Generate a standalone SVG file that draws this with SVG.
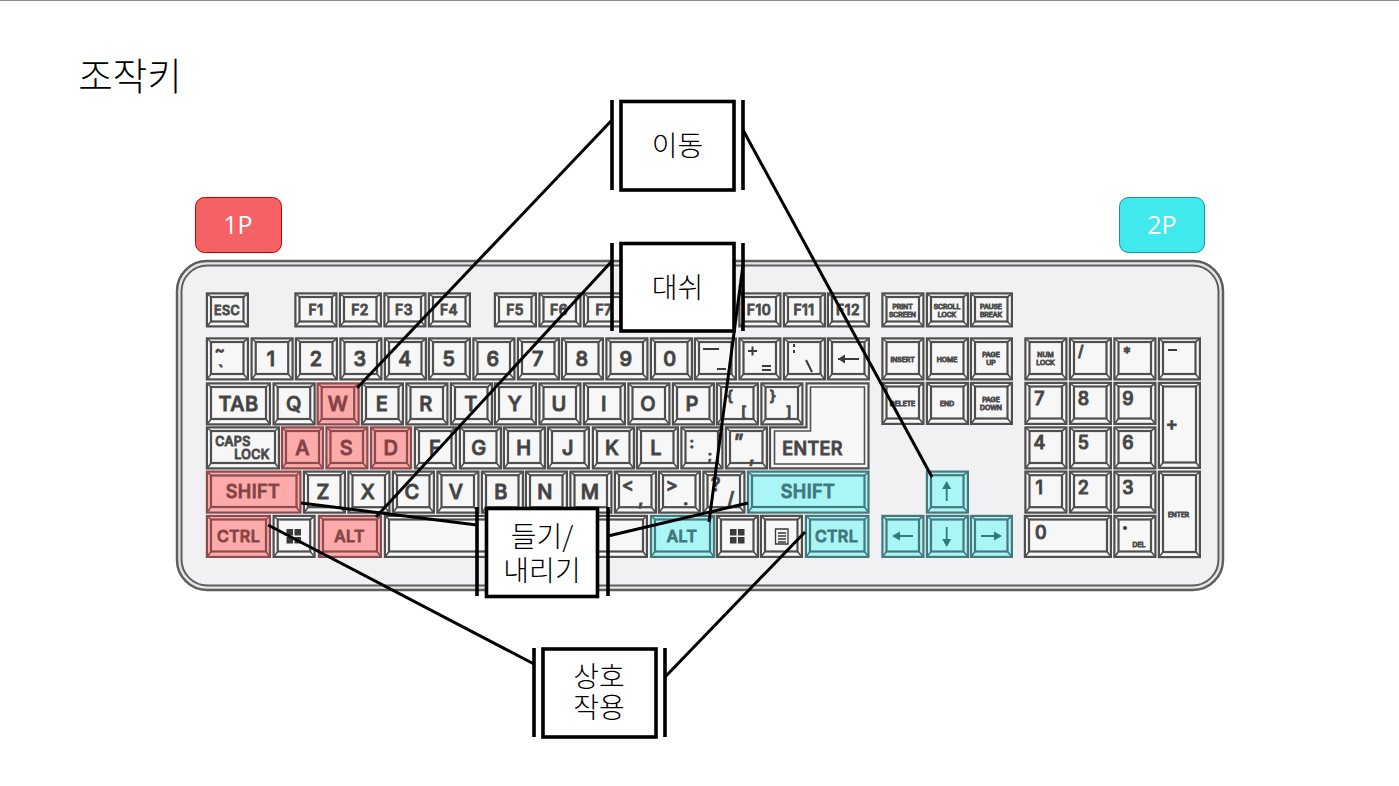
<svg xmlns="http://www.w3.org/2000/svg" width="1399" height="786" viewBox="0 0 1399 786">
<style>
text{font-family:"Inter","Liberation Sans",sans-serif;font-weight:500;fill:#3a3a3a;text-anchor:middle;letter-spacing:.4px}
.o{stroke-width:2.200;stroke-linejoin:miter}
.b{stroke-width:1.600;fill:none}
g.w,use.w{fill:#f7f7f7;stroke:#4f4f4f}
g.r,use.r{fill:#fdaaaa;stroke:#8c4b4e}
g.c,use.c{fill:#aaf5f6;stroke:#46797c}
g.r text{fill:#7b3a3d}
g.c text{fill:#2f7a7e}
.l{font-size:20px}.m{font-size:18px}.s{font-size:15px}.t{font-size:6.800px;font-weight:400;letter-spacing:0}.n{font-size:14px}
.conn{stroke:#000;stroke-width:3;fill:none;stroke-linecap:butt}
.box{fill:#fff;stroke:#000;stroke-width:3.600}
.bar{stroke:#000;stroke-width:3.600}
.kr{font-family:"Noto Sans CJK KR",sans-serif;font-weight:300;fill:#000;font-size:28px;letter-spacing:0}
.badge{font-family:"Open Sans","Noto Sans",sans-serif;font-weight:400;fill:#fff;font-size:25px;letter-spacing:0}
</style>
<defs>
<symbol id="k" width="44" height="44" overflow="visible"><rect class="o" x=".9" y=".9" width="41" height="41"/><rect class="o" x="5" y="4.500" width="32.500" height="32"/><path class="b" d="M1 1 5 4.500M42 1 37.500 4.500M1 42 5 36.500M42 42 37.500 36.500"/></symbol>
<symbol id="f" width="44" height="36" overflow="visible"><rect class="o" x=".9" y=".9" width="41" height="33"/><rect class="o" x="5" y="4.500" width="32.500" height="24.500"/><path class="b" d="M1 1 5 4.500M42 1 37.500 4.500M1 34 5 29M42 34 37.500 29"/></symbol>
</defs>
<rect width="1399" height="786" fill="#fff"/>
<rect width="1399" height="1" fill="#8c8c8c"/>
<text x="130" y="90" class="kr" style="font-size:37.500px">조작키</text>
<g id="badge-1p"><rect x="195.500" y="197.500" width="86" height="55" rx="9" fill="#f56164" stroke="#c00000"/><text x="238" y="234" class="badge">1P</text></g>
<g id="badge-2p"><rect x="1119.500" y="197.500" width="85" height="55" rx="9" fill="#3fe9ec" stroke="#1a8fa8"/><text x="1162" y="234" class="badge">2P</text></g>
<g id="keyboard">
<rect x="177" y="261" width="1046" height="329" rx="30" fill="#e6e6e6" stroke="#5f5f5f" stroke-width="2.500"/>
<rect x="181.500" y="265.500" width="1037" height="320" rx="26" fill="#f1f1f3" stroke="#5f5f5f" stroke-width="2"/>

<g class="w">
<use href="#f" class="w" x="206" y="292.500"/><use href="#f" class="w" x="294.500" y="292.500"/><use href="#f" class="w" x="339" y="292.500"/><use href="#f" class="w" x="383.500" y="292.500"/><use href="#f" class="w" x="428" y="292.500"/>
<use href="#f" class="w" x="494" y="292.500"/><use href="#f" class="w" x="538.500" y="292.500"/><use href="#f" class="w" x="583" y="292.500"/><use href="#f" class="w" x="738.500" y="292.500"/><use href="#f" class="w" x="783" y="292.500"/><use href="#f" class="w" x="827" y="292.500"/>
<use href="#f" class="w" x="881.500" y="292.500"/><use href="#f" class="w" x="926" y="292.500"/><use href="#f" class="w" x="970" y="292.500"/>
<text style="font-size:12.500px" x="227" y="314.500">ESC</text><text class="n" x="316" y="315">F1</text><text class="n" x="360" y="315">F2</text><text class="n" x="404" y="315">F3</text><text class="n" x="449" y="315">F4</text><text class="n" x="515" y="315">F5</text><text class="n" x="559" y="315">F6</text><text class="n" x="604" y="315">F7</text><text class="n" x="759" y="315">F10</text><text class="n" x="804" y="315">F11</text><text class="n" x="848" y="315">F12</text>
<text class="t" x="902.500" y="309">PRINT</text><text class="t" x="902.500" y="316.500">SCREEN</text><text class="t" x="947" y="309">SCROLL</text><text class="t" x="947" y="316.500">LOCK</text><text class="t" x="991" y="309">PAUSE</text><text class="t" x="991" y="316.500">BREAK</text>
</g>

<g class="w">
<use href="#k" class="w" x="206" y="337.500"/><use href="#k" class="w" x="250.700" y="337.500"/><use href="#k" class="w" x="295" y="337.500"/><use href="#k" class="w" x="339.500" y="337.500"/><use href="#k" class="w" x="384" y="337.500"/><use href="#k" class="w" x="428" y="337.500"/><use href="#k" class="w" x="472.500" y="337.500"/><use href="#k" class="w" x="517" y="337.500"/><use href="#k" class="w" x="561" y="337.500"/><use href="#k" class="w" x="605.500" y="337.500"/><use href="#k" class="w" x="650" y="337.500"/><use href="#k" class="w" x="694" y="337.500"/><use href="#k" class="w" x="738.500" y="337.500"/><use href="#k" class="w" x="783" y="337.500"/><use href="#k" class="w" x="827" y="337.500"/>
<text style="font-size:15px" x="220" y="355">~</text><text style="font-size:15px" x="221" y="376">`</text>
<text class="l" x="271" y="366">1</text><text class="l" x="316" y="366">2</text><text class="l" x="360" y="366">3</text><text class="l" x="405" y="366">4</text><text class="l" x="449" y="366">5</text><text class="l" x="493" y="366">6</text><text class="l" x="538" y="366">7</text><text class="l" x="582" y="366">8</text><text class="l" x="626" y="366">9</text><text class="l" x="670" y="366">0</text>
<path d="M703 349h16M717 369h9M748 351h9M752.500 346.500v9M762 366h9M762 370h9M794 344v3M794 350v3M806 360l6 12" fill="none" stroke="#3a3a3a" stroke-width="2"/>
<path d="M838 359h21" fill="none" stroke="#3a3a3a" stroke-width="2"/><path d="M838 359l7-4.500v9z" fill="#3a3a3a" stroke="none"/>
</g>

<g class="w">
<use href="#k" class="w" x="272.700" y="382.500"/><use href="#k" class="w" x="361" y="382.500"/><use href="#k" class="w" x="405.500" y="382.500"/><use href="#k" class="w" x="450" y="382.500"/><use href="#k" class="w" x="494" y="382.500"/><use href="#k" class="w" x="538.500" y="382.500"/><use href="#k" class="w" x="583" y="382.500"/><use href="#k" class="w" x="627.500" y="382.500"/><use href="#k" class="w" x="672" y="382.500"/><use href="#k" class="w" x="716" y="382.500"/><use href="#k" class="w" x="760.500" y="382.500"/>
<rect class="o" x="206.900" y="383.400" width="63" height="41"/><rect class="o" x="211" y="387" width="55" height="32"/><path class="b" d="M207 383.500 211 387M270 383.500 266 387M207 424.500 211 419M270 424.500 266 419"/>
<text class="l" x="238.500" y="411">TAB</text>
<text class="l" x="294" y="411">Q</text><text class="l" x="382" y="411">E</text><text class="l" x="426" y="411">R</text><text class="l" x="471" y="411">T</text><text class="l" x="515" y="411">Y</text><text class="l" x="559" y="411">U</text><text class="l" x="604" y="411">I</text><text class="l" x="648" y="411">O</text><text class="l" x="692" y="411">P</text>
<text class="s" x="730" y="401">{</text><text class="s" x="744" y="417">[</text><text class="s" x="773" y="401">}</text><text class="s" x="789" y="417">]</text>
<path class="o" d="M806.500 383.400h62v85h-98.500v-41h36.500z"/>
<path class="b" d="M810.500 387h54v77h-90v-33h36z"/>
<text class="m" x="812.500" y="454.500">ENTER</text>

<rect class="o" x="206.900" y="427.400" width="72" height="41"/><rect class="o" x="211" y="431" width="64" height="32"/><path class="b" d="M207 427.500 211 431M279 427.500 275 431M207 468.500 211 463M279 468.500 275 463"/>
<text style="font-size:12.500px" x="233" y="446">CAPS</text><text style="font-size:12.500px" x="252" y="459">LOCK</text>
<use href="#k" class="w" x="414" y="426.500"/><use href="#k" class="w" x="459" y="426.500"/><use href="#k" class="w" x="503" y="426.500"/><use href="#k" class="w" x="547" y="426.500"/><use href="#k" class="w" x="592" y="426.500"/><use href="#k" class="w" x="636" y="426.500"/><use href="#k" class="w" x="680.500" y="426.500"/><use href="#k" class="w" x="725" y="426.500"/>
<text class="l" x="435" y="455">F</text><text class="l" x="479" y="455">G</text><text class="l" x="524" y="455">H</text><text class="l" x="568" y="455">J</text><text class="l" x="612" y="455">K</text><text class="l" x="656" y="455">L</text>
<text class="s" x="692" y="448">:</text><text class="s" x="710" y="461">;</text><text class="l" x="739" y="449">”</text><text class="l" x="752" y="462">,</text>

<use href="#k" class="w" x="303" y="470.700"/><use href="#k" class="w" x="347.500" y="470.700"/><use href="#k" class="w" x="392" y="470.700"/><use href="#k" class="w" x="436.500" y="470.700"/><use href="#k" class="w" x="481" y="470.700"/><use href="#k" class="w" x="525" y="470.700"/><use href="#k" class="w" x="569.500" y="470.700"/><use href="#k" class="w" x="614" y="470.700"/><use href="#k" class="w" x="658" y="470.700"/><use href="#k" class="w" x="702.500" y="470.700"/>
<text class="l" x="323" y="499">Z</text><text class="l" x="368" y="499">X</text><text class="l" x="412" y="499">C</text><text class="l" x="456" y="499">V</text><text class="l" x="501" y="499">B</text><text class="l" x="545" y="499">N</text><text class="l" x="590" y="499">M</text>
<text class="m" x="628" y="491">&lt;</text><text class="m" x="641" y="505">,</text><text class="m" x="672" y="491">&gt;</text><text class="m" x="686" y="505">.</text><text class="m" x="716" y="491">?</text><text class="m" x="731" y="505">/</text>

<use href="#k" class="w" x="272.700" y="515"/>
<path d="M286.500 529h6.500v6.500h-6.500zM294.500 529h6.500v6.500h-6.500zM286.500 537h6.500v6.500h-6.500zM294.500 537h6.500v6.500h-6.500z" fill="#3a3a3a" stroke="none"/>
<rect class="o" x="384.900" y="515.900" width="262" height="41"/><rect class="o" x="389" y="519.500" width="254" height="32"/>
<path class="b" d="M385 516 389 519.500M647 516 643 519.500M385 557 389 551.500M647 557 643 551.500"/>
<use href="#k" class="w" x="716" y="515"/>
<path d="M730 529h6.500v6.500h-6.500zM738 529h6.500v6.500h-6.500zM730 537h6.500v6.500h-6.500zM738 537h6.500v6.500h-6.500z" fill="#3a3a3a" stroke="none"/>
<use href="#k" class="w" x="760" y="515"/>
<path d="M775.500 529h12.500v15h-12.500zM778 533h8M778 536h8M778 539h8M778 542h8" fill="none" stroke="#3a3a3a" stroke-width="1.300"/>
</g>

<g class="w">
<use href="#k" class="w" x="881.500" y="337.500"/><use href="#k" class="w" x="926" y="337.500"/><use href="#k" class="w" x="970" y="337.500"/><use href="#k" class="w" x="881.500" y="382"/><use href="#k" class="w" x="926" y="382"/><use href="#k" class="w" x="970" y="382"/>
<text class="t" x="902.500" y="361.500">INSERT</text><text class="t" x="947" y="361.500">HOME</text><text class="t" x="991" y="357">PAGE</text><text class="t" x="991" y="365">UP</text>
<text class="t" x="902.500" y="406">DELETE</text><text class="t" x="947" y="406">END</text><text class="t" x="991" y="402">PAGE</text><text class="t" x="991" y="410">DOWN</text>
<use href="#k" class="w" x="1024.500" y="337.500"/><use href="#k" class="w" x="1069" y="337.500"/><use href="#k" class="w" x="1113.500" y="337.500"/><use href="#k" class="w" x="1158" y="337.500"/>
<text class="t" x="1045.500" y="357">NUM</text><text class="t" x="1045.500" y="365">LOCK</text>
<text class="s" x="1081" y="356">/</text><text class="s" x="1127" y="358">*</text><path d="M1168 350h9" stroke="#3a3a3a" stroke-width="2"/>
<use href="#k" class="w" x="1024.500" y="382"/><use href="#k" class="w" x="1069" y="382"/><use href="#k" class="w" x="1113.500" y="382"/>
<use href="#k" class="w" x="1024.500" y="426.500"/><use href="#k" class="w" x="1069" y="426.500"/><use href="#k" class="w" x="1113.500" y="426.500"/>
<use href="#k" class="w" x="1024.500" y="470.700"/><use href="#k" class="w" x="1069" y="470.700"/><use href="#k" class="w" x="1113.500" y="470.700"/>
<use href="#k" class="w" x="1113.500" y="515"/>
<text class="m" x="1039.500" y="405">7</text><text class="m" x="1083.500" y="405">8</text><text class="m" x="1128" y="405">9</text>
<text class="m" x="1039.500" y="449">4</text><text class="m" x="1083.500" y="449">5</text><text class="m" x="1128" y="449">6</text>
<text class="m" x="1039.500" y="494">1</text><text class="m" x="1083.500" y="494">2</text><text class="m" x="1128" y="494">3</text>
<rect class="o" x="1158.900" y="382.900" width="41" height="85"/><rect class="o" x="1163" y="386.500" width="33" height="76"/><path class="b" d="M1159 383 1163 386.500M1200 383 1196 386.500M1159 468 1163 462.500M1200 468 1196 462.500"/>
<text class="m" x="1172" y="430">+</text>
<rect class="o" x="1158.900" y="471.600" width="41" height="85.500"/><rect class="o" x="1163" y="475" width="33" height="77"/><path class="b" d="M1159 471.700 1163 475M1200 471.700 1196 475M1159 557 1163 552M1200 557 1196 552"/>
<text class="t" x="1178.500" y="516.500" style="font-size:6.500px">ENTER</text>
<rect class="o" x="1024.900" y="515.900" width="86" height="41"/><rect class="o" x="1029" y="519.500" width="78" height="32"/><path class="b" d="M1025 516 1029 519.500M1111 516 1107 519.500M1025 557 1029 551.500M1111 557 1107 551.500"/>
<text class="m" x="1041" y="539">0</text>
<circle cx="1125" cy="528" r="2" fill="#3a3a3a" stroke="none"/><text class="t" x="1139" y="547">DEL</text>
</g>

<g class="r">
<use href="#k" class="r" x="316.700" y="382.500"/><text class="l" x="338" y="411">W</text>
<rect class="o" x="282" y="427.400" width="41" height="41"/><rect class="o" x="286" y="431" width="33" height="32"/><path class="b" d="M282 427.500 286 431M323 427.500 319 431M282 468.500 286 463M323 468.500 319 463"/><text class="l" x="302.500" y="455">A</text>
<use href="#k" class="r" x="325.500" y="426.500"/><text class="l" x="346.500" y="455">S</text>
<rect class="o" x="371" y="427.400" width="40" height="41"/><rect class="o" x="375" y="431" width="32" height="32"/><path class="b" d="M371 427.500 375 431M411 427.500 407 431M371 468.500 375 463M411 468.500 407 463"/><text class="l" x="391" y="455">D</text>
<rect class="o" x="206.900" y="471.600" width="93.500" height="41"/><rect class="o" x="211" y="475.500" width="85.500" height="31.500"/><path class="b" d="M207 471.700 211 475.500M300 471.700 296.500 475.500M207 512.500 211 507M300 512.500 296.500 507"/><text class="m" x="253" y="498">SHIFT</text>
<rect class="o" x="206.900" y="515.900" width="63" height="41"/><rect class="o" x="211" y="519.500" width="55" height="32"/><path class="b" d="M207 516 211 519.500M270 516 266 519.500M207 557 211 551.500M270 557 266 551.500"/><text style="font-size:16px" x="238.500" y="541.500">CTRL</text>
<rect class="o" x="318.900" y="515.900" width="62" height="41"/><rect class="o" x="323" y="519.500" width="54" height="32"/><path class="b" d="M319 516 323 519.500M381 516 377 519.500M319 557 323 551.500M381 557 377 551.500"/><text style="font-size:16px" x="349.500" y="541.500">ALT</text>
</g>

<g class="c">
<rect class="o" x="748" y="471.600" width="120.500" height="41"/><rect class="o" x="752" y="475.500" width="112.500" height="31.500"/><path class="b" d="M748 471.700 752 475.500M868.500 471.700 864.500 475.500M748 512.500 752 507M868.500 512.500 864.500 507"/><text class="m" x="808" y="498">SHIFT</text>
<rect class="o" x="651" y="515.900" width="63" height="41"/><rect class="o" x="655" y="519.500" width="55" height="32"/><path class="b" d="M651 516 655 519.500M714 516 710 519.500M651 557 655 551.500M714 557 710 551.500"/><text style="font-size:16px" x="682" y="541.500">ALT</text>
<rect class="o" x="805.900" y="515.900" width="62.500" height="41"/><rect class="o" x="810" y="519.500" width="54.500" height="32"/><path class="b" d="M806 516 810 519.500M868.500 516 864.500 519.500M806 557 810 551.500M868.500 557 864.500 551.500"/><text style="font-size:16px" x="836.500" y="541.500">CTRL</text>
<use href="#k" class="c" x="926" y="470.700"/><use href="#k" class="c" x="881.500" y="515"/><use href="#k" class="c" x="926" y="515"/><use href="#k" class="c" x="970" y="515"/>
<path d="M946.700 484v17M946.700 527v17M896 536h17M981 536h17" fill="none" stroke="#2f7a7e" stroke-width="1.800"/>
<path d="M946.700 481l-4.500 8h9zM946.700 547l-4.500-8h9zM892 536l8-4.500v9zM1002 536l-8-4.500v9z" fill="#2f7a7e" stroke="none"/>
</g>
</g>

<g id="connectors" class="conn">
<path d="M612 120 357 388"/><path d="M743 130 932 477"/>
<path d="M612 261 376 517"/><path d="M743 265 709 522"/>
<path d="M477 525 301 503"/><path d="M608 536 748 503"/>
<path d="M534 664 268 525"/><path d="M665 677 805 532"/>
</g>

<g id="node-move"><rect class="box" x="621" y="101.500" width="113" height="88.500"/><path class="bar" d="M612 100v90M743 100v90"/><text class="kr" x="677.500" y="156">이동</text></g>
<g id="node-dash"><rect class="box" x="621" y="243.500" width="113" height="87.500"/><path class="bar" d="M612 243v88M743 243v88"/><text class="kr" x="677.500" y="298">대쉬</text></g>
<g id="node-lift"><rect class="box" x="486.500" y="508.500" width="111" height="88"/><path class="bar" d="M477 507v89M608 507v89"/><text class="kr" x="542" y="547">들기/</text><text class="kr" x="542" y="581">내리기</text></g>
<g id="node-interact"><rect class="box" x="543" y="649" width="113" height="88"/><path class="bar" d="M534 648v89M665 648v89"/><text class="kr" x="599" y="687">상호</text><text class="kr" x="599" y="718">작용</text></g>
</svg>
